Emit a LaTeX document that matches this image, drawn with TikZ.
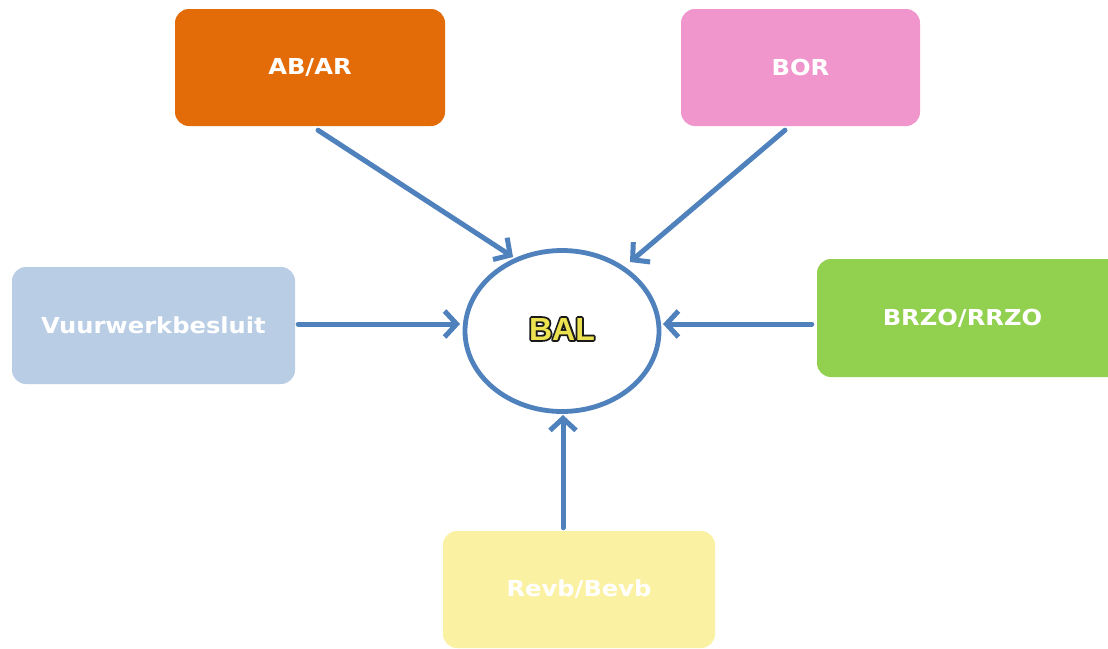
\documentclass[tikz,border=0pt]{standalone}
\usepackage{fontspec}
\setmainfont{DejaVu Sans}
\newfontfamily\balfont{Liberation Sans}
\usetikzlibrary{arrows.meta,shapes.geometric,calc}
\definecolor{cOrange}{RGB}{227,108,9}
\definecolor{cPink}{RGB}{240,150,205}
\definecolor{cLightBlue}{RGB}{185,205,229}
\definecolor{cGreen}{RGB}{146,208,80}
\definecolor{cYellow}{RGB}{251,241,162}
\definecolor{cArrow}{RGB}{79,129,189}
\definecolor{cBalFill}{RGB}{236,226,80}
\newcommand{\boxtext}[1]{\scalebox{1.1}[1]{\fontsize{22pt}{26pt}\selectfont\bfseries #1}}
\newcommand{\outlinedtext}[1]{\rlap{\special{pdf:literal direct 2 Tr 3.6 w 1 j 0.1 0.1 0.1 RG}#1\special{pdf:literal direct 0 Tr}}#1}
\begin{document}
\begin{tikzpicture}[x=1pt,y=-1pt,
  srcbox/.style={rectangle, rounded corners=14pt, draw=none, inner sep=0pt, text=white},
  conn/.style={draw=cArrow, line width=5pt, line cap=round,
    -{Straight Barb[length=12pt,width=26pt,line width=5pt]}},
  balshape/.style={ellipse, draw=cArrow, line width=4.8pt, fill=white,
    minimum width=194pt, minimum height=161pt, inner sep=0pt}]
\useasboundingbox[fill=white] (0,0) rectangle (1108,648);
% boxes
\node[srcbox, fill=cOrange, minimum width=270pt, minimum height=117pt] (abar) at (310,67.5) {\boxtext{AB/AR}};
\node[srcbox, fill=cPink, minimum width=239pt, minimum height=117pt] (bor) at (800.5,67.5) {\boxtext{BOR}};
\node[srcbox, fill=cLightBlue, minimum width=283pt, minimum height=117pt] (vuur) at (153.5,325.5) {\boxtext{Vuurwerkbesluit}};
\node[srcbox, fill=cGreen, minimum width=305pt, minimum height=118pt] (brzo) at (969.5,318) {\hspace*{-14pt}\boxtext{BRZO/RRZO}};
\node[srcbox, fill=cYellow, minimum width=272pt, minimum height=117pt] (revb) at (579,589.5) {\boxtext{Revb/Bevb}};
% central ellipse
\node[balshape] (bal) at (562,331) {};
% connectors
\draw[conn] ($(abar.south)+(8,4)$) -- ($(bal.center)+(-49,-74)$);
\draw[conn] ($(bor.south)+(-15.5,4)$) -- ($(bal.center)+(68,-69)$);
\draw[conn] ($(vuur.east)+(3,-1.5)$) -- ($(bal.center)+(-102,-7)$);
\draw[conn] ($(brzo.west)+(-5,6)$) -- ($(bal.center)+(101,-7)$);
\draw[conn] ($(revb.north)+(-16,-3)$) -- ($(bal.center)+(1,84)$);
% BAL label
\node[text=cBalFill] (baltext) at ($(bal.center)+(0,-2)$) {\balfont\fontsize{32pt}{36pt}\selectfont\bfseries\outlinedtext{BAL}};
\end{tikzpicture}
\end{document}
